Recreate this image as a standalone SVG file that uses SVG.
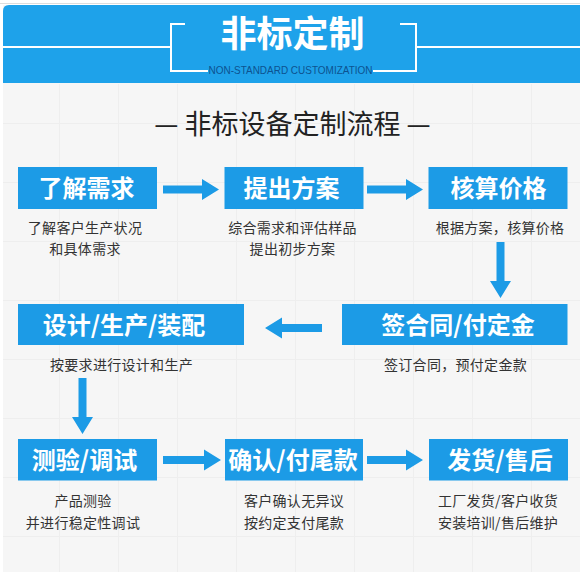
<svg xmlns="http://www.w3.org/2000/svg" width="580" height="572" viewBox="0 0 580 572">
<style>
.box{fill:#1c9be6}
.bt{fill:#ffffff;font-family:"Noto Sans CJK SC","Noto Sans",sans-serif;font-weight:700;font-size:24px;text-anchor:middle}
.dt{fill:#333333;font-family:"Noto Sans CJK SC","Noto Sans",sans-serif;font-size:14px;letter-spacing:0.3px;text-anchor:middle}
.arr{fill:#1c9be6}
.wl{fill:none;stroke:#ffffff;stroke-width:2}
</style>
<defs>
<pattern id="grid" x="0" y="5" width="59" height="59" patternUnits="userSpaceOnUse">
<path d="M0,0.5 H59 M0.5,0 V59" fill="none" stroke="#eeeeee" stroke-width="1"/>
</pattern>
</defs>
<rect width="580" height="572" fill="#ffffff"/>
<line x1="0" y1="3.5" x2="580" y2="3.5" stroke="#dddddd" stroke-width="1"/>
<rect x="3" y="5" width="577" height="567" fill="#f6f6f6"/>
<rect x="3" y="84" width="577" height="488" fill="url(#grid)"/>

<g id="header">
<path d="M3,83 V11 Q3,5 9,5 H580 V83 Z" fill="#1ea2ea"/>
<path class="wl" d="M3,47 H171 M185,24 H171 V71 H208 M373,71 H416 V24 H400 M416,47 H580"/>
<text x="292.5" y="47" fill="#ffffff" font-family="'Noto Sans CJK SC','Noto Sans',sans-serif" font-weight="700" font-size="36" text-anchor="middle">非标定制</text>
<text x="290.5" y="73.5" fill="#0d5290" font-family="'Liberation Sans','DejaVu Sans',sans-serif" font-size="10.5" text-anchor="middle" textLength="164" lengthAdjust="spacingAndGlyphs">NON-STANDARD CUSTOMIZATION</text>
</g>

<g id="subtitle">
<text x="292.5" y="134" fill="#222222" font-family="'Noto Sans CJK SC','Noto Sans',sans-serif" font-size="27" text-anchor="middle">— 非标设备定制流程 —</text>
</g>

<g id="connectors">
<path class="arr" d="M163,185.5 H202 V179 L219,189.5 L202,200 V193.5 H163 Z"/>
<path class="arr" d="M367,185.5 H406 V179 L423,189.5 L406,200 V193.5 H367 Z"/>
<path class="arr" d="M496.5,242 V281 H490 L500.5,298 L511,281 H504.5 V242 Z"/>
<path class="arr" d="M322,324 H282 V317.5 L265,328 L282,338.5 V332 H322 Z"/>
<path class="arr" d="M78.5,378 V417 H72 L82.5,434 L93,417 H86.5 V378 Z"/>
<path class="arr" d="M163,456 H204 V449.5 L221,460 L204,470.5 V464 H163 Z"/>
<path class="arr" d="M367,456 H406 V449.5 L423,460 L406,470.5 V464 H367 Z"/>
</g>

<g id="n1">
<rect class="box" x="18" y="167" width="139" height="42"/>
<text class="bt" x="86.5" y="197">了解需求</text>
<text class="dt" x="85" y="233">了解客户生产状况</text>
<text class="dt" x="85" y="254">和具体需求</text>
</g>
<g id="n2">
<rect class="box" x="224.5" y="167" width="139" height="42"/>
<text class="bt" x="291.5" y="197">提出方案</text>
<text class="dt" x="292.5" y="233">综合需求和评估样品</text>
<text class="dt" x="292.5" y="254">提出初步方案</text>
</g>
<g id="n3">
<rect class="box" x="428.5" y="167" width="139" height="42"/>
<text class="bt" x="498.5" y="197">核算价格</text>
<text class="dt" x="500" y="233">根据方案，核算价格</text>
</g>
<g id="n4">
<rect class="box" x="342" y="304" width="225.5" height="41"/>
<text class="bt" x="458" y="334">签合同/付定金</text>
<text class="dt" x="455.5" y="370">签订合同，预付定金款</text>
</g>
<g id="n5">
<rect class="box" x="18" y="304" width="226" height="41"/>
<text class="bt" x="124" y="334">设计/生产/装配</text>
<text class="dt" x="121.5" y="370">按要求进行设计和生产</text>
</g>
<g id="n6">
<rect class="box" x="18" y="439" width="139" height="41.5"/>
<text class="bt" x="84.5" y="469">测验/调试</text>
<text class="dt" x="83" y="506">产品测验</text>
<text class="dt" x="83" y="528">并进行稳定性调试</text>
</g>
<g id="n7">
<rect class="box" x="225" y="439" width="138" height="41.5"/>
<text class="bt" x="293" y="469">确认/付尾款</text>
<text class="dt" x="294" y="506">客户确认无异议</text>
<text class="dt" x="294" y="528">按约定支付尾款</text>
</g>
<g id="n8">
<rect class="box" x="429" y="439" width="139" height="41.5"/>
<text class="bt" x="500" y="469">发货/售后</text>
<text class="dt" x="498" y="506">工厂发货/客户收货</text>
<text class="dt" x="498" y="528">安装培训/售后维护</text>
</g>
</svg>
